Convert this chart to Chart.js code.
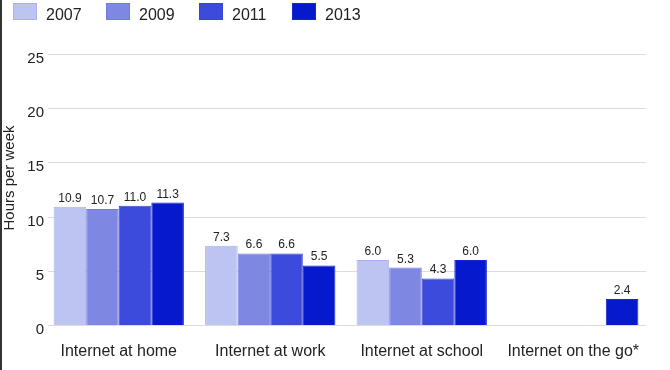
<!DOCTYPE html>
<html>
<head>
<meta charset="utf-8">
<script src="https://cdn.jsdelivr.net/npm/chart.js@4.4.1/dist/chart.umd.min.js"></script>
<style>
  html, body { margin: 0; padding: 0; background: #fff; }
</style>
</head>
<body>
<canvas id="chart" width="670" height="370"></canvas>
<script>
// Data
const categories = ['Internet at home', 'Internet at work', 'Internet at school', 'Internet on the go*'];
const years = ['2007', '2009', '2011', '2013'];
const values2007 = [10.9, 7.3, 6.0, null];
const values2009 = [10.7, 6.6, 5.3, null];
const values2011 = [11.0, 6.6, 4.3, null];
const values2013 = [11.3, 5.5, 6.0, 2.4];
const yTicks = [0, 5, 10, 15, 20, 25];

const fills = ['#bdc4f2', '#7e88e3', '#3c4bdc', '#0619cc'];
const borders = ['#aab3ef', '#707be0', '#3545d8', '#1627cf'];
const textColor = '#222222';
const gridColor = '#dcdcdc';
const fontFamily = '"Liberation Sans", Arial, sans-serif';

Chart.defaults.font.family = fontFamily;

const seriesValues = [values2007, values2009, values2011, values2013];

// Gridlines, y tick labels, legend, axis title, value labels and the left frame line
const decorPlugin = {
    id: 'decor',
    beforeDatasetsDraw: (chart) => {
        const {ctx} = chart;
        const y = chart.scales.y;
        ctx.save();
        ctx.strokeStyle = gridColor;
        ctx.lineWidth = 1;
        ctx.font = '15px ' + fontFamily;
        ctx.fillStyle = textColor;
        ctx.textAlign = 'right';
        ctx.textBaseline = 'alphabetic';
        yTicks.forEach(v => {
            const py = Math.round(y.getPixelForValue(v)) + 0.5;
            ctx.beginPath();
            ctx.moveTo(48, py);
            ctx.lineTo(646, py);
            ctx.stroke();
            ctx.fillText(String(v), 44, py + 8);
        });
        ctx.restore();
    },
    afterDatasetsDraw: (chart) => {
        const {ctx} = chart;
        ctx.save();
        ctx.font = '12px ' + fontFamily;
        ctx.fillStyle = textColor;
        ctx.textAlign = 'center';
        ctx.textBaseline = 'alphabetic';
        chart.data.datasets.forEach((ds, di) => {
            const meta = chart.getDatasetMeta(di);
            ds.data.forEach((v, i) => {
                if (v === null) return;
                const el = meta.data[i];
                ctx.fillText(v.toFixed(1), el.x, el.y - 5);
            });
        });
        ctx.restore();
    },
    afterDraw: (chart) => {
        const {ctx} = chart;
        ctx.save();
        // legend
        ctx.font = '16px ' + fontFamily;
        ctx.textAlign = 'left';
        ctx.textBaseline = 'alphabetic';
        years.forEach((label, i) => {
            const x = 13 + i * 93;
            ctx.fillStyle = fills[i];
            ctx.fillRect(x, 3, 24, 17);
            ctx.strokeStyle = borders[i];
            ctx.lineWidth = 1;
            ctx.strokeRect(x + 0.5, 3.5, 23, 16);
            ctx.fillStyle = textColor;
            ctx.fillText(label, x + 33, 19.5);
        });
        // y axis title
        ctx.translate(10, 178);
        ctx.rotate(-Math.PI / 2);
        ctx.font = '15px ' + fontFamily;
        ctx.textAlign = 'center';
        ctx.textBaseline = 'middle';
        ctx.fillText('Hours per week', 0, 0);
        ctx.setTransform(1, 0, 0, 1, 0, 0);
        // frame line on the left edge
        ctx.fillStyle = '#333333';
        ctx.fillRect(0, 0, 2, chart.height);
        ctx.restore();
    }
};

new Chart(document.getElementById('chart'), {
    type: 'bar',
    data: {
        labels: categories,
        datasets: years.map((yr, i) => ({
            label: yr,
            data: seriesValues[i],
            backgroundColor: fills[i],
            borderColor: borders[i],
            borderWidth: 1,
            categoryPercentage: 0.86,
            barPercentage: 1.0
        }))
    },
    options: {
        responsive: false,
        animation: false,
        layout: {
            padding: { top: 54, right: 21, bottom: 0, left: 0 }
        },
        scales: {
            x: {
                offset: true,
                grid: { display: false, drawTicks: false },
                border: { display: false },
                ticks: {
                    color: textColor,
                    font: { size: 16 },
                    padding: 17,
                    maxRotation: 0,
                    autoSkip: false
                },
                afterFit: (s) => { s.height = 45; }
            },
            y: {
                min: 0,
                max: 25,
                grid: { display: false, drawTicks: false },
                border: { display: false },
                ticks: {
                    display: false,
                    stepSize: 5
                },
                afterFit: (s) => { s.width = 43; }
            }
        },
        plugins: {
            legend: { display: false },
            tooltip: { enabled: false }
        }
    },
    plugins: [decorPlugin]
});
</script>
</body>
</html>
